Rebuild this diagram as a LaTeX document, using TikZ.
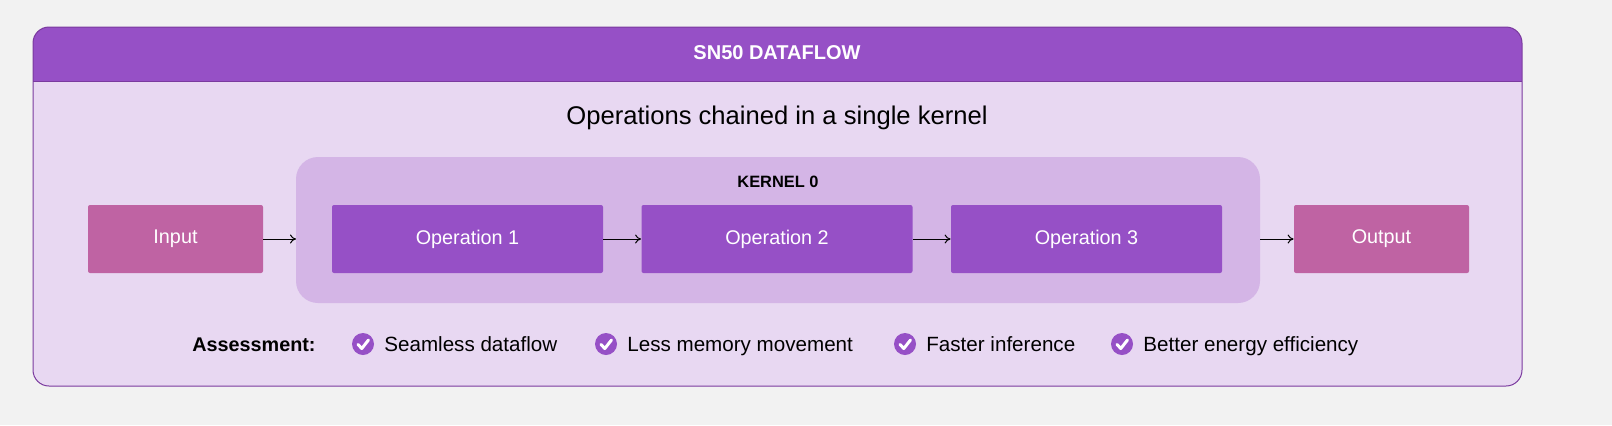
\documentclass[tikz,border=0pt]{standalone}
\usepackage{fontspec}
\setmainfont{Liberation Sans}
\usetikzlibrary{arrows.meta,calc}
\newcommand{\fs}[1]{\fontsize{#1}{#1}\selectfont}
\begin{document}
\begin{tikzpicture}[x=0.5pt,y=-0.5pt,
 op/.style={draw=none,fill=opc,rounded corners=1pt,minimum width=135.5pt,minimum height=34pt,text=white,font=\fs{9.9}},
 io/.style={op,fill=ioc,minimum width=87.5pt},
 arr/.style={-{To[length=3pt,width=4.5pt]},line width=0.5pt},
 chk/.style={circle,fill=opc,minimum size=11pt,inner sep=0pt},
 lab/.style={anchor=west,font=\fs{10.3},text height=7.4pt,text depth=0pt,inner sep=0pt}]
\definecolor{opc}{HTML}{9650C6}
\definecolor{ioc}{HTML}{BF63A3}
\definecolor{bodyc}{HTML}{E8D8F2}
\definecolor{kerc}{HTML}{D4B5E6}
\definecolor{bordc}{HTML}{7A3A9E}
\definecolor{bgc}{HTML}{F2F2F2}
\useasboundingbox (0,0) rectangle (1612,425);
\fill[bgc] (0,0) rectangle (1612,425);
\fill[bodyc,rounded corners=8pt] (33,27) rectangle (1522,386);
\begin{scope}
\clip[rounded corners=8pt] (33,27) rectangle (1522,386);
\fill[opc] (33,27) rectangle (1522,81);
\end{scope}
\draw[bordc,line width=0.5pt,rounded corners=8pt] (33,27) rectangle (1522,386);
\draw[bordc,line width=0.4pt] (33,81) -- (1522,81);
\node[text=white,font=\fs{10}\bfseries] (hdr) at (777,53) {SN50 DATAFLOW};
\node[font=\fs{12.8}] (title) at (777,118) {Operations chained in a single kernel};
\fill[kerc,rounded corners=11pt] (296,157) rectangle (1260,303);
\node[font=\fs{8.2}\bfseries] (klab) at (778,182) {KERNEL 0};
\node[io] (in) at (175.5,239) {Input};
\node[op] (o1) at (467.5,239) {Operation 1};
\node[op] (o2) at (777,239) {Operation 2};
\node[op] (o3) at (1086.5,239) {Operation 3};
\node[io] (out) at (1381.5,239) {Output};
\coordinate (kin) at (296,239);
\coordinate (kout) at (1260,239);
\draw[arr] (in) -- (kin);
\draw[arr] (o1) -- (o2);
\draw[arr] (o2) -- (o3);
\draw[arr] (kout) -- (out);
\node[anchor=east,font=\fs{9.9}\bfseries,text height=7.2pt,text depth=0pt,inner sep=0pt] (ass) at (316,344) {Assessment:};
\foreach \x/\t/\n in {363/Seamless dataflow/a,606/Less memory movement/b,905/Faster inference/c,1122/Better energy efficiency/d}{
 \node[chk] (c\n) at (\x,344) {};
 \draw[white,line width=1.5pt,line cap=round,line join=round] ($(c\n)+(-5,0.5)$) -- ($(c\n)+(-1.2,4.5)$) -- ($(c\n)+(5.5,-4)$);
 \node[lab] (t\n) at (\x+21,344) {\t};
}
\end{tikzpicture}
\end{document}
